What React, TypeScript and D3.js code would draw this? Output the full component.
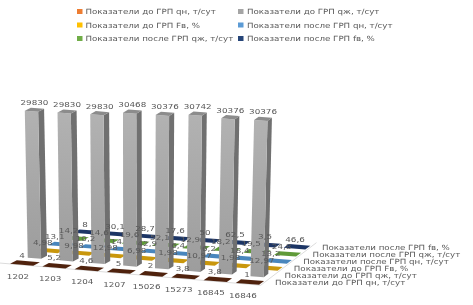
import { useEffect, useRef } from "react";
import * as d3 from "d3";

const width = 473;
const height = 305;

const categories = ["1202", "1203", "1204", "1207", "15026", "15273", "16845", "16846"];
const seriesNames = [
  "Показатели до ГРП qн, т/сут",
  "Показатели до ГРП qж, т/сут",
  "Показатели до ГРП Fв, %",
  "Показатели после ГРП qн, т/сут",
  "Показатели после ГРП qж, т/сут",
  "Показатели после ГРП fв, %",
];
const qnBefore = [4, 5.2, 4.6, 5, 2, 3.8, 3.8, 1];
const qzBefore = [29830, 29830, 29830, 30468, 30376, 30742, 30376, 30376];
const fvBefore = [4.98, 9.98, 12.98, 6.98, 1.98, 10.97, 1.98, 12.97];
const qnAfter = [13.1, 10.2, 14, 42.9, 6.4, 6.2, 18.4, 13.2];
const qzAfter = [14.2, 14.6, 19.6, 52.1, 12.9, 18.2, 19.5, 24.8];
const fvAfter = [8, 30.1, 28.7, 17.6, 50, 62.5, 3.5, 46.6];
const seriesValues = [qnBefore, qzBefore, fvBefore, qnAfter, qzAfter, fvAfter];

const legendColors = ["#ed7d31", "#a5a5a5", "#ffc000", "#5b9bd5", "#70ad47", "#264478"];
const tileColors = ["#4f2410", "#a5a5a5", "#c9970c", "#4a86bd", "#5f9a38", "#1c3565"];

const App = () => {
  const ref = useRef<SVGSVGElement>(null);

  useEffect(() => {
    const svg = d3.select(ref.current);
    svg.selectAll("*").remove();

    const defs = svg.append("defs");
    defs
      .append("filter")
      .attr("id", "soft")
      .attr("x", "-5%")
      .attr("y", "-5%")
      .attr("width", "110%")
      .attr("height", "110%")
      .append("feGaussianBlur")
      .attr("stdDeviation", 0.45);
    const grad = defs
      .append("linearGradient")
      .attr("id", "barFront")
      .attr("x1", 0)
      .attr("y1", 0)
      .attr("x2", 0)
      .attr("y2", 1);
    grad.append("stop").attr("offset", "0%").attr("stop-color", "#b2b2b2");
    grad.append("stop").attr("offset", "100%").attr("stop-color", "#9d9d9d");

    const root = svg.append("g").attr("filter", "url(#soft)");

    // floor projection: category index + series index -> pixels
    const frontX = d3.scaleLinear().domain([0, 7]).range([25, 250]);
    const frontY = d3.scaleLinear().domain([0, 7]).range([263, 282]);
    const backX = d3.scaleLinear().domain([0, 7]).range([87, 297]);
    const backY = d3.scaleLinear().domain([0, 7]).range([232, 247]);
    const depth = d3.scaleLinear().domain([0, 5]).range([0, 1]);

    const project = (i: number, j: number): [number, number] => {
      const t = depth(j);
      return [
        frontX(i) + (backX(i) - frontX(i)) * t,
        frontY(i) + (backY(i) - frontY(i)) * t,
      ];
    };

    const perspective = d3.scaleLinear().domain([0, 7]).range([0.00493, 0.00514]);
    const lean = d3.scaleLinear().domain([0, 7]).range([-3, 3.5]);

    const line = d3.line();

    // floor edges
    const floorEdge = [project(-0.68, -0.3), project(7.42, -0.3), project(7.42, 5.75)];
    root
      .append("path")
      .attr("d", line(floorEdge))
      .attr("fill", "none")
      .attr("stroke", "#dcdcdc")
      .attr("stroke-width", 1);

    const top = (p: [number, number], h: number, i: number): [number, number] => [
      p[0] + (lean(i) * h) / 150,
      p[1] - h,
    ];

    // back rows first so the nearer ones cover them
    d3.range(5, -1, -1).forEach((j) => {
      const w = j === 1 ? 0.21 : 0.36;
      const d = j === 1 ? 0.24 : 0.27;
      const values = seriesValues[j];
      categories.forEach((_, i) => {
        const h = values[i] * perspective(i);
        const fl = project(i - w, j - d);
        const fr = project(i + w, j - d);
        const br = project(i + w, j + d);
        const bl = project(i - w, j + d);
        const g = root.append("g");
        if (j === 1) {
          g.append("path")
            .attr("d", line([fr, br, top(br, h, i), top(fr, h, i)]) + "Z")
            .attr("fill", "#6f6f6f");
          g.append("path")
            .attr("d", line([fl, fr, top(fr, h, i), top(fl, h, i)]) + "Z")
            .attr("fill", "url(#barFront)");
        }
        g.append("path")
          .attr("d", line([top(fl, h, i), top(fr, h, i), top(br, h, i), top(bl, h, i)]) + "Z")
          .attr("fill", j === 1 ? "#8c8c8c" : tileColors[j]);
      });
    });

    const fmt = (v: number) => String(v).replace(".", ",");
    // the text in the picture is flattened, wider than it is tall
    const squash = (x: number, y: number) => `translate(${x}, ${y}) scale(1, 0.82)`;

    // value labels
    const labelOffsetX = [-3, 0, -7, -7.5, -6, -2];
    seriesValues.forEach((values, j) => {
      root
        .append("g")
        .selectAll("text")
        .data(values)
        .enter()
        .append("text")
        .attr("transform", (v, i) => {
          const p = project(i, j);
          return j === 1
            ? squash(top(p, v * perspective(i), i)[0], top(p, v * perspective(i), i)[1] - 7)
            : squash(p[0] + labelOffsetX[j], p[1] - 8);
        })
        .attr("dy", "0.35em")
        .attr("text-anchor", "middle")
        .style("font-family", "'DejaVu Sans'")
        .style("font-size", "8.8px")
        .style("fill", "#595959")
        .text((v) => fmt(v));
    });

    // category axis
    root
      .append("g")
      .selectAll("text")
      .data(categories)
      .enter()
      .append("text")
      .attr("transform", (_, i) => squash(project(i, 0)[0] - 7, project(i, 0)[1] + 13))
      .attr("dy", "0.35em")
      .attr("text-anchor", "middle")
      .style("font-family", "'DejaVu Sans'")
      .style("font-size", "8.8px")
      .style("fill", "#595959")
      .text((d) => d);

    // series axis
    root
      .append("g")
      .selectAll("text")
      .data(seriesNames)
      .enter()
      .append("text")
      .attr("transform", (_, j) => squash(project(7, j)[0] + 25, project(7, j)[1]))
      .attr("dy", "0.35em")
      .style("font-family", "'DejaVu Sans'")
      .style("font-size", "8.7px")
      .style("fill", "#595959")
      .text((d) => d);

    // legend
    const legendX = d3.scaleOrdinal<number, number>().domain([0, 1]).range([77, 238]);
    const legendY = d3.scaleLinear().domain([0, 2]).range([11.5, 38.5]);
    const legend = root
      .append("g")
      .selectAll("g")
      .data(seriesNames)
      .enter()
      .append("g")
      .attr("transform", (_, k) => `translate(${legendX(k % 2)}, ${legendY(Math.floor(k / 2))})`);
    legend
      .append("rect")
      .attr("x", 0)
      .attr("y", -2.5)
      .attr("width", 5.5)
      .attr("height", 5)
      .attr("fill", (_, k) => legendColors[k]);
    legend
      .append("text")
      .attr("transform", (_, k) => squash(k % 2 ? 9 : 8.5, 0))
      .attr("dy", "0.35em")
      .style("font-family", "'DejaVu Sans'")
      .style("font-size", "8.7px")
      .style("fill", "#595959")
      .text((d) => d);
  }, []);

  return (
    <svg
      ref={ref}
      width={width}
      height={height}
      viewBox={`0 0 ${width} ${height}`}
      style={{ position: "absolute", left: 0, top: 0, background: "#fff" }}
    />
  );
};

export default App;
